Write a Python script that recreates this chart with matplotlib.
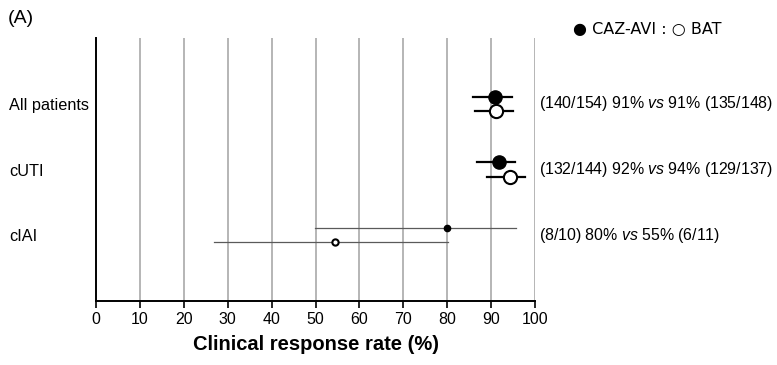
import matplotlib.pyplot as plt

plt.rcParams['font.family'] = ['Liberation Sans', 'DejaVu Sans']
plt.rcParams['mathtext.fontset'] = 'custom'
plt.rcParams['mathtext.rm'] = 'Liberation Sans'
plt.rcParams['mathtext.it'] = 'Liberation Sans:italic'

# data
groups = ['All patients', 'cUTI', 'cIAI']
caz_n = [140, 132, 8]
caz_N = [154, 144, 10]
bat_n = [135, 129, 6]
bat_N = [148, 137, 11]
caz_rate = [90.9, 91.7, 80.0]
caz_lo = [85.8, 86.7, 49.8]
caz_hi = [94.7, 95.4, 95.7]
bat_rate = [91.2, 94.2, 54.5]
bat_lo = [86.3, 89.1, 26.9]
bat_hi = [95.0, 97.7, 80.2]
caz_pct = [91, 92, 80]
bat_pct = [91, 94, 55]

fig = plt.figure(figsize=(7.77, 3.65), dpi=100)
ax = fig.add_axes([0.1236, 0.1753, 0.5650, 0.7206])

off = 0.11
for i, g in enumerate(groups):
    y = i + 1
    small = g == 'cIAI'
    lc = '#5a5a5a' if small else 'black'
    lw = 0.9 if small else 1.6
    ms = 4.5 if small else 9.5
    ax.plot([caz_lo[i], caz_hi[i]], [y - off, y - off], color=lc, lw=lw, zorder=3)
    ax.plot([bat_lo[i], bat_hi[i]], [y + off, y + off], color=lc, lw=lw, zorder=3)
    ax.plot(caz_rate[i], y - off, 'o', color='black', ms=ms, zorder=4)
    ax.plot(bat_rate[i], y + off, 'o', mfc='white', mec='black',
            mew=1.5, ms=ms, zorder=4)
    txt = f"({caz_n[i]}/{caz_N[i]}) {caz_pct[i]}% $\\mathit{{vs}}$ {bat_pct[i]}% ({bat_n[i]}/{bat_N[i]})"
    ax.text(100.8, y, txt, fontsize=11.4, va='center', ha='left', clip_on=False)

ax.set_xlim(0, 100)
ax.set_ylim(4, 0)
ax.set_xticks(range(0, 101, 10))
ax.set_yticks([1, 2, 3])
ax.set_yticklabels(groups, ha='left')
ax.tick_params(axis='y', length=0, labelsize=11.7, pad=62.5)
ax.tick_params(axis='x', length=5, width=1.2, labelsize=11.5, pad=3)
for x in range(10, 101, 10):
    ax.axvline(x, color='#b5b5b5', lw=1.4, zorder=1)
ax.spines['top'].set_visible(False)
ax.spines['right'].set_visible(False)
ax.spines['left'].set_linewidth(1.4)
ax.spines['bottom'].set_linewidth(1.4)
ax.set_xlabel('Clinical response rate (%)', fontsize=14.5, fontweight='bold', labelpad=6)

fig.text(0.010, 0.95, '(A)', fontsize=14, va='center')
fig.text(0.737, 0.918, '\u25cf CAZ-AVI : \u25cb BAT', fontsize=11.5, va='center',
         family=['DejaVu Sans'])

fig.savefig('out.png', dpi=100)
